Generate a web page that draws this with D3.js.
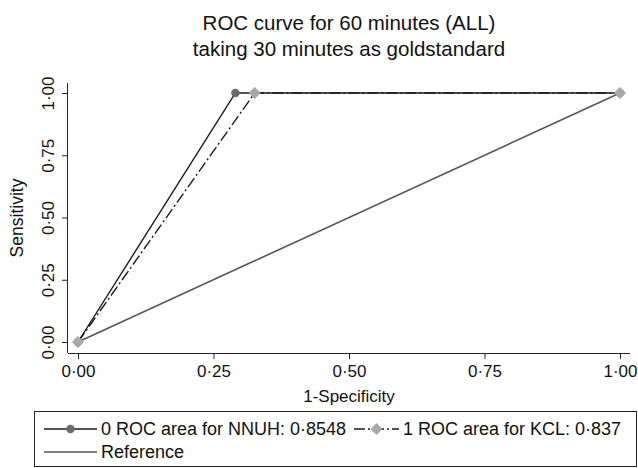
<!DOCTYPE html>
<html><head><meta charset="utf-8">
<script src="https://cdn.jsdelivr.net/npm/d3@7/dist/d3.min.js"></script>
<style>body{margin:0;background:#fff}svg{display:block;font-family:"Liberation Sans",Arial,sans-serif}</style>
</head><body><svg id="c" width="638" height="468"></svg>
<script>
const titleLines = ["ROC curve for 60 minutes (ALL)", "taking 30 minutes as goldstandard"];
const xTicks = [0, 0.25, 0.5, 0.75, 1];
const yTicks = [0, 0.25, 0.5, 0.75, 1];
const nnuhX = [0, 0.2904, 1];
const nnuhY = [0, 1, 1];
const kclX = [0, 0.326, 1];
const kclY = [0, 1, 1];
const refX = [0, 1];
const refY = [0, 1];
const legendLabels = ["0 ROC area for NNUH: 0·8548", "1 ROC area for KCL: 0·837", "Reference"];

const svg = d3.select("#c");
const x = d3.scaleLinear().domain([0, 1]).range([78, 620]);
const y = d3.scaleLinear().domain([0, 1]).range([342, 93]);
const fmt = v => d3.format(".2f")(v).replace(".", "·");

// title, centred over the plot region
svg.append("g").selectAll("text").data(titleLines).join("text")
  .attr("x", 349).attr("y", (d, i) => 30 + i * 26)
  .attr("text-anchor", "middle").attr("font-size", 20.5).attr("fill", "#111").text(d => d);

// axes
const xAxis = svg.append("g").attr("transform", "translate(0,353)")
  .call(d3.axisBottom(x).tickValues(xTicks).tickFormat(fmt).tickSize(6).tickSizeOuter(0));
xAxis.select(".domain").attr("d", "M68,0.5H630").attr("stroke", "#222");
xAxis.selectAll(".tick line").attr("stroke", "#222");
xAxis.selectAll("text").attr("font-size", 17).attr("fill", "#111").attr("dy", null).attr("y", 24);

const yAxis = svg.append("g").attr("transform", "translate(68,0)")
  .call(d3.axisLeft(y).tickValues(yTicks).tickFormat(fmt).tickSize(6).tickSizeOuter(0));
yAxis.select(".domain").attr("d", "M-0.5,83V353").attr("stroke", "#222");
yAxis.selectAll(".tick line").attr("stroke", "#222");
yAxis.selectAll("text").attr("font-size", 17).attr("fill", "#111")
  .attr("x", null).attr("dy", null).attr("text-anchor", "middle")
  .attr("transform", "translate(-14,0) rotate(-90)");

svg.append("text").attr("x", 349).attr("y", 402).attr("text-anchor", "middle")
  .attr("font-size", 17).attr("fill", "#111").text("1-Specificity");
svg.append("text").attr("transform", "translate(23,218) rotate(-90)").attr("text-anchor", "middle")
  .attr("font-size", 17.5).attr("fill", "#111").text("Sensitivity");

const line = d3.line().x(d => x(d[0])).y(d => y(d[1]));
const nnuh = d3.zip(nnuhX, nnuhY), kcl = d3.zip(kclX, kclY), ref = d3.zip(refX, refY);
const dashDot = "11,3,2,3";

svg.append("path").attr("d", line(ref)).attr("fill", "none").attr("stroke", "#555").attr("stroke-width", 1.6);
svg.append("path").attr("d", line(nnuh)).attr("fill", "none").attr("stroke", "#1a1a1a").attr("stroke-width", 1.4);
svg.append("path").attr("d", line(kcl)).attr("fill", "none").attr("stroke", "#1a1a1a").attr("stroke-width", 1.4)
  .attr("stroke-dasharray", dashDot);

svg.append("g").selectAll("circle").data(nnuh).join("circle")
  .attr("cx", d => x(d[0])).attr("cy", d => y(d[1])).attr("r", 4.2).attr("fill", "#6a6a6a");
svg.append("g").selectAll("path").data(kcl).join("path")
  .attr("d", d3.symbol().type(d3.symbolSquare).size(72))
  .attr("transform", d => `translate(${x(d[0])},${y(d[1])}) rotate(45)`).attr("fill", "#a8a8a8");

// legend
const lg = svg.append("g");
lg.append("rect").attr("x", 34.5).attr("y", 411.5).attr("width", 602).attr("height", 55)
  .attr("fill", "none").attr("stroke", "#222");
const items = [
  {x: 44, len: 53, y: 429, label: legendLabels[0], type: "circle", dash: null},
  {x: 354, len: 45, y: 429, label: legendLabels[1], type: "diamond", dash: dashDot},
  {x: 44, len: 53, y: 452, label: legendLabels[2], type: "none", dash: null}
];
items.forEach(it => {
  lg.append("line").attr("x1", it.x).attr("x2", it.x + it.len).attr("y1", it.y).attr("y2", it.y)
    .attr("stroke", it.type === "none" ? "#555" : "#1a1a1a").attr("stroke-width", it.type === "none" ? 1.6 : 1.4)
    .attr("stroke-dasharray", it.dash);
  if (it.type === "circle") lg.append("circle").attr("cx", it.x + it.len / 2).attr("cy", it.y).attr("r", 4.2).attr("fill", "#6a6a6a");
  if (it.type === "diamond") lg.append("path").attr("d", d3.symbol().type(d3.symbolSquare).size(72))
    .attr("transform", `translate(${it.x + it.len / 2},${it.y}) rotate(45)`).attr("fill", "#a8a8a8");
  lg.append("text").attr("x", it.x + it.len + 4).attr("y", it.y).attr("dy", "0.35em")
    .attr("font-size", 18).attr("fill", "#111").text(it.label);
});
</script></body></html>
